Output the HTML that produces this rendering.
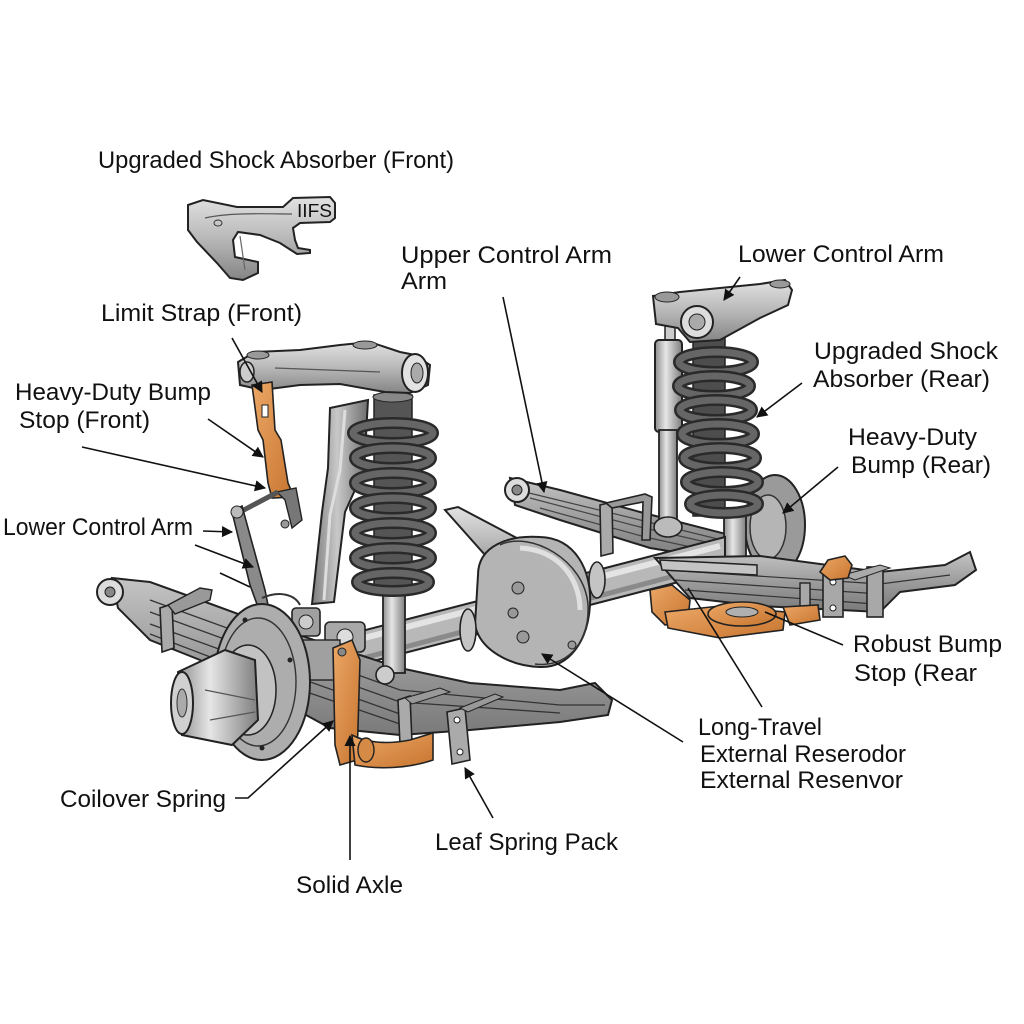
<!DOCTYPE html>
<html><head><meta charset="utf-8"><style>
html,body{margin:0;padding:0;background:#fff;}
svg{display:block;}
text{font-family:"Liberation Sans",Arial,sans-serif;font-size:24px;fill:#111;}
</style></head><body>
<svg width="1024" height="1024" viewBox="0 0 1024 1024" xmlns="http://www.w3.org/2000/svg">
<defs>
<linearGradient id="m" x1="0" y1="0" x2="0" y2="1"><stop offset="0" stop-color="#e2e2e2"/><stop offset="0.5" stop-color="#b8b8b8"/><stop offset="1" stop-color="#858585"/></linearGradient>
<linearGradient id="lf" x1="0" y1="0" x2="0" y2="1"><stop offset="0" stop-color="#c4c4c4"/><stop offset="0.5" stop-color="#9c9c9c"/><stop offset="1" stop-color="#7a7a7a"/></linearGradient>
<linearGradient id="mh" x1="0" y1="0" x2="1" y2="0"><stop offset="0" stop-color="#8e8e8e"/><stop offset="0.4" stop-color="#e6e6e6"/><stop offset="1" stop-color="#7e7e7e"/></linearGradient>
<linearGradient id="st" x1="0" y1="0" x2="1" y2="0"><stop offset="0" stop-color="#7c7c7c"/><stop offset="0.45" stop-color="#c8c8c8"/><stop offset="1" stop-color="#6e6e6e"/></linearGradient>
<linearGradient id="or" x1="0" y1="0" x2="1" y2="1"><stop offset="0" stop-color="#eca766"/><stop offset="1" stop-color="#c7752f"/></linearGradient>
<marker id="ar" viewBox="0 0 10 10" refX="9" refY="5" markerWidth="7" markerHeight="7" orient="auto"><path d="M0,0 L10,5 L0,10 z" fill="#111"/></marker>
</defs>
<rect width="1024" height="1024" fill="#fff"/>

<!-- IFS bracket -->
<path d="M188,205 L203,200 L237,207 L283,207 L293,198 L330,197 L335,203 L335,218 L330,222 L300,223 L293,228 L295,240 L298,248 L310,250 L310,253 L297,254 L280,243 L260,235 L238,232 L233,240 L235,257 L258,262 L258,273 L243,280 L230,278 L217,263 L197,242 L188,230 Z" fill="url(#m)" stroke="#222" stroke-width="2"/>
<path d="M205,218 C230,212 270,214 292,214" fill="none" stroke="#555" stroke-width="1.2"/>
<path d="M240,236 L245,270" stroke="#666" stroke-width="1.2"/>
<ellipse cx="218" cy="223" rx="4" ry="3" fill="none" stroke="#333"/>
<text x="297" y="217" textLength="35" lengthAdjust="spacingAndGlyphs" style="font-size:18px">IIFS</text>

<!-- rear upper leaf spring -->
<path d="M510,478 L560,490 L640,512 L730,535 L735,562 L650,548 L560,520 L515,505 Z" fill="url(#lf)" stroke="#222" stroke-width="2"/>
<path d="M530,498 L640,527 L732,548 M540,508 L645,537 L732,556 M525,492 L640,520 L730,542" fill="none" stroke="#444" stroke-width="1.2"/>
<circle cx="517" cy="490" r="12" fill="#ddd" stroke="#222" stroke-width="2"/>
<circle cx="517" cy="490" r="5" fill="#888" stroke="#222"/>
<path d="M600,505 L612,502 L613,553 L601,556 Z" fill="#aaa" stroke="#222" stroke-width="1.6"/>
<path d="M606,503 L645,494 L652,497 L650,540 L642,540 L643,502 L612,508 Z" fill="#999" stroke="#222" stroke-width="1.6"/>

<!-- right thin shock -->
<rect x="665" y="323" width="10" height="18" fill="#ccc" stroke="#222" stroke-width="1.5"/>
<rect x="655" y="340" width="27" height="92" rx="4" fill="url(#mh)" stroke="#222" stroke-width="2"/>
<rect x="659" y="430" width="18" height="92" fill="url(#mh)" stroke="#222" stroke-width="1.8"/>
<ellipse cx="668" cy="527" rx="14" ry="10" fill="#bbb" stroke="#222" stroke-width="1.6"/>

<!-- right brake disc -->
<ellipse cx="775" cy="525" rx="30" ry="50" fill="#9a9a9a" stroke="#222" stroke-width="2"/>
<ellipse cx="768" cy="527" rx="18" ry="32" fill="#b5b5b5" stroke="#333" stroke-width="1.5"/>

<!-- right coilover -->
<rect x="693" y="338" width="32" height="178" fill="#4d4d4d" stroke="#222" stroke-width="1.5"/>
<rect x="724" y="512" width="22" height="52" fill="url(#mh)" stroke="#222" stroke-width="1.8"/>
<g fill="none">
<ellipse cx="716" cy="362" rx="37" ry="10" stroke="#2a2a2a" stroke-width="12"/><ellipse cx="716" cy="362" rx="37" ry="10" stroke="#666" stroke-width="7"/>
<ellipse cx="714" cy="386" rx="36" ry="10" stroke="#2a2a2a" stroke-width="12"/><ellipse cx="714" cy="386" rx="36" ry="10" stroke="#666" stroke-width="7"/>
<ellipse cx="716" cy="410" rx="36" ry="10" stroke="#2a2a2a" stroke-width="12"/><ellipse cx="716" cy="410" rx="36" ry="10" stroke="#666" stroke-width="7"/>
<ellipse cx="718" cy="434" rx="36" ry="10" stroke="#2a2a2a" stroke-width="12"/><ellipse cx="718" cy="434" rx="36" ry="10" stroke="#666" stroke-width="7"/>
<ellipse cx="720" cy="458" rx="36" ry="10" stroke="#2a2a2a" stroke-width="12"/><ellipse cx="720" cy="458" rx="36" ry="10" stroke="#666" stroke-width="7"/>
<ellipse cx="722" cy="482" rx="36" ry="10" stroke="#2a2a2a" stroke-width="12"/><ellipse cx="722" cy="482" rx="36" ry="10" stroke="#666" stroke-width="7"/>
<ellipse cx="724" cy="504" rx="34" ry="9" stroke="#2a2a2a" stroke-width="12"/><ellipse cx="724" cy="504" rx="34" ry="9" stroke="#666" stroke-width="7"/>
</g>

<!-- right top arm -->
<path d="M653,296 L680,292 L760,284 L785,280 L792,290 L788,305 L760,318 L720,340 L690,342 L678,328 L656,324 Z" fill="url(#m)" stroke="#222" stroke-width="2"/>
<ellipse cx="667" cy="297" rx="12" ry="5" fill="#999" stroke="#222"/>
<ellipse cx="780" cy="284" rx="10" ry="4" fill="#999" stroke="#222"/>
<circle cx="697" cy="322" r="16" fill="#ddd" stroke="#222" stroke-width="2"/>
<circle cx="697" cy="322" r="8" fill="#aaa" stroke="#222"/>

<!-- axle tube -->
<path d="M300,647 L725,537 L725,570 L300,680 Z" fill="#b8b8b8" stroke="#222" stroke-width="2"/>
<path d="M310,652 L720,546" stroke="#e4e4e4" stroke-width="6"/>
<path d="M310,672 L720,564" stroke="#8a8a8a" stroke-width="5"/>

<!-- differential -->
<path d="M445,510 L458,507 L530,545 L505,578 L485,555 Z" fill="url(#m)" stroke="#222" stroke-width="2"/>
<path d="M478,575 C478,545 510,535 540,537 C575,538 592,570 590,605 C588,640 570,668 540,667 C510,666 480,650 475,625 Z" fill="#b4b4b4" stroke="#222" stroke-width="2"/>
<path d="M500,545 C530,530 585,560 588,605 C590,645 565,668 535,664" fill="none" stroke="#333" stroke-width="1.5"/>
<path d="M520,548 C560,550 580,580 580,610" fill="none" stroke="#e0e0e0" stroke-width="5"/>
<ellipse cx="468" cy="630" rx="8" ry="21" fill="#c4c4c4" stroke="#222" stroke-width="1.6"/>
<ellipse cx="597" cy="580" rx="8" ry="18" fill="#c4c4c4" stroke="#222" stroke-width="1.6"/>
<circle cx="518" cy="588" r="6" fill="#999" stroke="#222"/>
<circle cx="513" cy="613" r="5" fill="#999" stroke="#222"/>
<circle cx="523" cy="637" r="6" fill="#999" stroke="#222"/>
<circle cx="572" cy="645" r="4" fill="#999" stroke="#222"/>

<!-- rear lower leaf spring -->
<path d="M655,558 L760,556 L880,572 L945,565 L970,552 L976,570 L955,585 L900,592 L880,612 L760,606 L690,598 Z" fill="url(#lf)" stroke="#222" stroke-width="2"/>
<path d="M665,570 L880,584 L950,575 M675,580 L880,594 M685,590 L875,604" fill="none" stroke="#333" stroke-width="1.2"/>
<path d="M660,560 L757,565 L757,575 L662,570 Z" fill="#c4c4c4" stroke="#222" stroke-width="1.5"/>
<rect x="823" y="573" width="20" height="44" fill="#a8a8a8" stroke="#222" stroke-width="1.6"/>
<circle cx="833" cy="582" r="3" fill="#fff" stroke="#222"/><circle cx="833" cy="608" r="3" fill="#fff" stroke="#222"/>
<rect x="867" y="567" width="16" height="50" fill="#a8a8a8" stroke="#222" stroke-width="1.6"/>
<rect x="800" y="583" width="10" height="30" fill="#a8a8a8" stroke="#222" stroke-width="1.4"/>
<path d="M843,575 L880,565 L890,568 L855,580 Z" fill="#aaa" stroke="#222"/>

<!-- orange rear bump stop -->
<path d="M650,590 L672,585 L690,600 L688,620 L665,625 L652,612 Z" fill="url(#or)" stroke="#222" stroke-width="1.6"/>
<path d="M665,612 L720,606 L785,612 L783,630 L720,638 L668,628 Z" fill="url(#or)" stroke="#222" stroke-width="1.6"/>
<ellipse cx="742" cy="614" rx="34" ry="12" fill="url(#or)" stroke="#222" stroke-width="1.6"/>
<ellipse cx="742" cy="612" rx="16" ry="5" fill="#b0b0b0" stroke="#222"/>
<path d="M783,607 L818,605 L820,620 L790,625 Z" fill="url(#or)" stroke="#222" stroke-width="1.6"/>
<path d="M820,572 L828,560 L845,556 L852,565 L848,578 L830,580 Z" fill="url(#or)" stroke="#222" stroke-width="1.6"/>

<!-- front left leaf spring -->
<path d="M112,578 L150,582 L200,600 L260,622 L320,642 L400,668 L470,683 L560,690 L595,683 L612,700 L608,715 L560,722 L470,730 L400,735 L330,728 L260,690 L200,660 L150,640 L118,608 Z" fill="url(#lf)" stroke="#222" stroke-width="2"/>
<path d="M150,600 L260,640 L400,690 L560,705 L605,705 M150,612 L260,652 L400,702 L560,713 M150,624 L260,664 L400,714 M150,634 L260,676 L400,724" fill="none" stroke="#333" stroke-width="1.3"/>
<circle cx="110" cy="592" r="13" fill="#ddd" stroke="#222" stroke-width="2"/>
<circle cx="110" cy="592" r="5" fill="#888" stroke="#222"/>
<path d="M160,608 L172,604 L174,648 L162,652 Z" fill="#aaa" stroke="#222" stroke-width="1.6"/>
<path d="M168,605 L200,588 L212,590 L210,600 L175,614 Z" fill="#999" stroke="#222" stroke-width="1.4"/>
<path d="M398,700 L410,696 L412,742 L400,745 Z" fill="#aaa" stroke="#222" stroke-width="1.6"/>
<path d="M447,712 L465,708 L470,760 L452,764 Z" fill="#aaa" stroke="#222" stroke-width="1.6"/>
<circle cx="457" cy="720" r="3" fill="#fff" stroke="#222"/><circle cx="460" cy="752" r="3" fill="#fff" stroke="#222"/>
<path d="M405,698 L440,688 L450,692 L412,704 Z" fill="#999" stroke="#222"/>
<path d="M460,708 L495,694 L503,697 L468,712 Z" fill="#999" stroke="#222"/>

<!-- front strut tube -->
<path d="M330,408 L368,400 L364,470 L345,512 L334,602 L312,604 L322,512 L328,468 Z" fill="url(#st)" stroke="#222" stroke-width="2"/>
<path d="M345,410 L340,470 L330,515 L324,600" fill="none" stroke="#ddd" stroke-width="3"/>

<!-- front coilover -->
<rect x="374" y="395" width="38" height="195" fill="#555" stroke="#222" stroke-width="1.5"/>
<ellipse cx="393" cy="397" rx="20" ry="5" fill="#888" stroke="#222"/>
<rect x="383" y="588" width="22" height="85" fill="url(#mh)" stroke="#222" stroke-width="1.8"/>
<circle cx="385" cy="675" r="9" fill="#ccc" stroke="#222" stroke-width="1.6"/>
<g fill="none">
<ellipse cx="393" cy="433" rx="40" ry="10" stroke="#2a2a2a" stroke-width="12"/><ellipse cx="393" cy="433" rx="40" ry="10" stroke="#666" stroke-width="7"/>
<ellipse cx="393" cy="458" rx="38" ry="10" stroke="#2a2a2a" stroke-width="12"/><ellipse cx="393" cy="458" rx="38" ry="10" stroke="#666" stroke-width="7"/>
<ellipse cx="393" cy="483" rx="38" ry="10" stroke="#2a2a2a" stroke-width="12"/><ellipse cx="393" cy="483" rx="38" ry="10" stroke="#666" stroke-width="7"/>
<ellipse cx="393" cy="508" rx="38" ry="10" stroke="#2a2a2a" stroke-width="12"/><ellipse cx="393" cy="508" rx="38" ry="10" stroke="#666" stroke-width="7"/>
<ellipse cx="393" cy="533" rx="38" ry="10" stroke="#2a2a2a" stroke-width="12"/><ellipse cx="393" cy="533" rx="38" ry="10" stroke="#666" stroke-width="7"/>
<ellipse cx="393" cy="558" rx="38" ry="10" stroke="#2a2a2a" stroke-width="12"/><ellipse cx="393" cy="558" rx="38" ry="10" stroke="#666" stroke-width="7"/>
<ellipse cx="393" cy="582" rx="36" ry="9" stroke="#2a2a2a" stroke-width="12"/><ellipse cx="393" cy="582" rx="36" ry="9" stroke="#666" stroke-width="7"/>
</g>

<!-- front upper arm -->
<path d="M238,362 L255,352 L300,350 L340,345 L370,342 L400,352 L415,355 L430,365 L428,385 L410,393 L385,392 L340,384 L300,385 L262,390 L240,385 Z" fill="url(#m)" stroke="#222" stroke-width="2"/>
<path d="M275,368 L380,372" stroke="#555" stroke-width="1.2"/>
<ellipse cx="258" cy="355" rx="11" ry="4" fill="#999" stroke="#222"/>
<ellipse cx="365" cy="345" rx="12" ry="4" fill="#999" stroke="#222"/>
<ellipse cx="247" cy="372" rx="7" ry="10" fill="#ccc" stroke="#222" stroke-width="1.5"/>
<ellipse cx="415" cy="373" rx="13" ry="19" fill="#e2e2e2" stroke="#222" stroke-width="2"/>
<ellipse cx="417" cy="373" rx="6" ry="10" fill="#aaa" stroke="#222"/>

<!-- orange strap front -->
<path d="M252,385 L272,382 L275,430 L281,440 L288,483 L294,497 L272,498 L268,483 L263,440 L258,430 Z" fill="url(#or)" stroke="#222" stroke-width="1.6"/>
<rect x="262" y="405" width="6" height="12" fill="#fff" stroke="#222"/>
<path d="M277,492 L296,488 L302,520 L292,528 L285,500 Z" fill="#777" stroke="#222" stroke-width="1.4"/>
<circle cx="285" cy="524" r="4" fill="#999" stroke="#222"/>
<path d="M240,512 L278,492" stroke="#555" stroke-width="5"/>

<!-- front lower control link -->
<path d="M232,512 L242,506 L265,590 L268,605 L258,607 L250,585 Z" fill="#8a8a8a" stroke="#222" stroke-width="1.6"/>
<circle cx="237" cy="512" r="6" fill="#bbb" stroke="#222"/>
<path d="M262,598 C280,590 295,595 300,605" fill="none" stroke="#333" stroke-width="2"/>

<!-- caliper/knuckle -->
<rect x="292" y="608" width="28" height="28" rx="4" fill="#a0a0a0" stroke="#222" stroke-width="1.6"/>
<circle cx="306" cy="622" r="7" fill="#ccc" stroke="#222"/>
<rect x="325" y="622" width="40" height="30" rx="5" fill="#a8a8a8" stroke="#222" stroke-width="1.6"/>
<circle cx="345" cy="637" r="8" fill="#ddd" stroke="#222"/>
<rect x="300" y="640" width="40" height="40" fill="#a0a0a0" stroke="#222" stroke-width="1.4"/>

<!-- front brake disc -->
<ellipse cx="262" cy="682" rx="48" ry="78" fill="#adadad" stroke="#222" stroke-width="2"/>
<ellipse cx="258" cy="682" rx="38" ry="64" fill="none" stroke="#333" stroke-width="1.4"/>
<ellipse cx="248" cy="690" rx="28" ry="45" fill="#c2c2c2" stroke="#222" stroke-width="1.5"/>
<circle cx="245" cy="620" r="2.5" fill="#222"/><circle cx="290" cy="660" r="2.5" fill="#222"/><circle cx="262" cy="748" r="2.5" fill="#222"/>
<!-- hub -->
<path d="M178,672 L225,650 L255,660 L258,720 L232,745 L182,735 Z" fill="url(#mh)" stroke="#222" stroke-width="2"/>
<path d="M205,690 L255,700 M210,720 L255,712" stroke="#555" stroke-width="1.2"/>
<ellipse cx="182" cy="703" rx="11" ry="31" fill="#d0d0d0" stroke="#222" stroke-width="2"/>
<ellipse cx="182" cy="703" rx="5" ry="14" fill="#aaa" stroke="#333"/>

<!-- orange front U -->
<path d="M333,648 L352,640 L360,660 L357,760 L340,765 L335,745 Z" fill="url(#or)" stroke="#222" stroke-width="1.6"/>
<circle cx="342" cy="652" r="4" fill="#888" stroke="#222"/>
<path d="M352,735 C365,742 385,745 410,740 L433,733 L433,760 C410,768 380,770 355,765 Z" fill="url(#or)" stroke="#222" stroke-width="1.6"/>
<ellipse cx="366" cy="750" rx="8" ry="12" fill="#d58a45" stroke="#222" stroke-width="1.4"/>

<!-- leader lines -->
<g stroke="#111" stroke-width="1.6" fill="none">
<line x1="232" y1="338" x2="262" y2="392" marker-end="url(#ar)"/>
<line x1="208" y1="419" x2="263" y2="457" marker-end="url(#ar)"/>
<line x1="82" y1="447" x2="265" y2="488" marker-end="url(#ar)"/>
<line x1="203" y1="531" x2="232" y2="532" marker-end="url(#ar)"/>
<line x1="195" y1="545" x2="253" y2="567" marker-end="url(#ar)"/>
<line x1="220" y1="573" x2="250" y2="587"/>
<line x1="503" y1="297" x2="544" y2="492" marker-end="url(#ar)"/>
<line x1="740" y1="277" x2="724" y2="300" marker-end="url(#ar)"/>
<line x1="802" y1="383" x2="757" y2="417" marker-end="url(#ar)"/>
<line x1="838" y1="467" x2="783" y2="513" marker-end="url(#ar)"/>
<line x1="843" y1="645" x2="765" y2="612"/>
<line x1="762" y1="707" x2="688" y2="588"/>
<line x1="683" y1="742" x2="542" y2="654" marker-end="url(#ar)"/>
<polyline points="235,798 248,798 333,721" marker-end="url(#ar)"/>
<line x1="350" y1="860" x2="350" y2="736" marker-end="url(#ar)"/>
<line x1="493" y1="818" x2="465" y2="768" marker-end="url(#ar)"/>
</g>

<!-- labels -->
<text x="98" y="168" textLength="356" lengthAdjust="spacingAndGlyphs">Upgraded Shock Absorber (Front)</text>
<text x="101" y="321" textLength="201" lengthAdjust="spacingAndGlyphs">Limit Strap (Front)</text>
<text x="401" y="263" textLength="211" lengthAdjust="spacingAndGlyphs">Upper Control Arm</text>
<text x="401" y="289" textLength="46" lengthAdjust="spacingAndGlyphs">Arm</text>
<text x="738" y="262" textLength="206" lengthAdjust="spacingAndGlyphs">Lower Control Arm</text>
<text x="15" y="400" textLength="196" lengthAdjust="spacingAndGlyphs">Heavy-Duty Bump</text>
<text x="19" y="428" textLength="131" lengthAdjust="spacingAndGlyphs">Stop (Front)</text>
<text x="814" y="359" textLength="184" lengthAdjust="spacingAndGlyphs">Upgraded Shock</text>
<text x="813" y="387" textLength="177" lengthAdjust="spacingAndGlyphs">Absorber (Rear)</text>
<text x="848" y="445" textLength="129" lengthAdjust="spacingAndGlyphs">Heavy-Duty</text>
<text x="851" y="473" textLength="140" lengthAdjust="spacingAndGlyphs">Bump (Rear)</text>
<text x="3" y="535" textLength="190" lengthAdjust="spacingAndGlyphs">Lower Control Arm</text>
<text x="853" y="652" textLength="149" lengthAdjust="spacingAndGlyphs">Robust Bump</text>
<text x="854" y="681" textLength="123" lengthAdjust="spacingAndGlyphs">Stop (Rear</text>
<text x="698" y="735" textLength="124" lengthAdjust="spacingAndGlyphs">Long-Travel</text>
<text x="700" y="762" textLength="206" lengthAdjust="spacingAndGlyphs">External Reserodor</text>
<text x="700" y="788" textLength="203" lengthAdjust="spacingAndGlyphs">External Resenvor</text>
<text x="60" y="807" textLength="166" lengthAdjust="spacingAndGlyphs">Coilover Spring</text>
<text x="435" y="850" textLength="183" lengthAdjust="spacingAndGlyphs">Leaf Spring Pack</text>
<text x="296" y="893" textLength="107" lengthAdjust="spacingAndGlyphs">Solid Axle</text>
</svg>
</body></html>
